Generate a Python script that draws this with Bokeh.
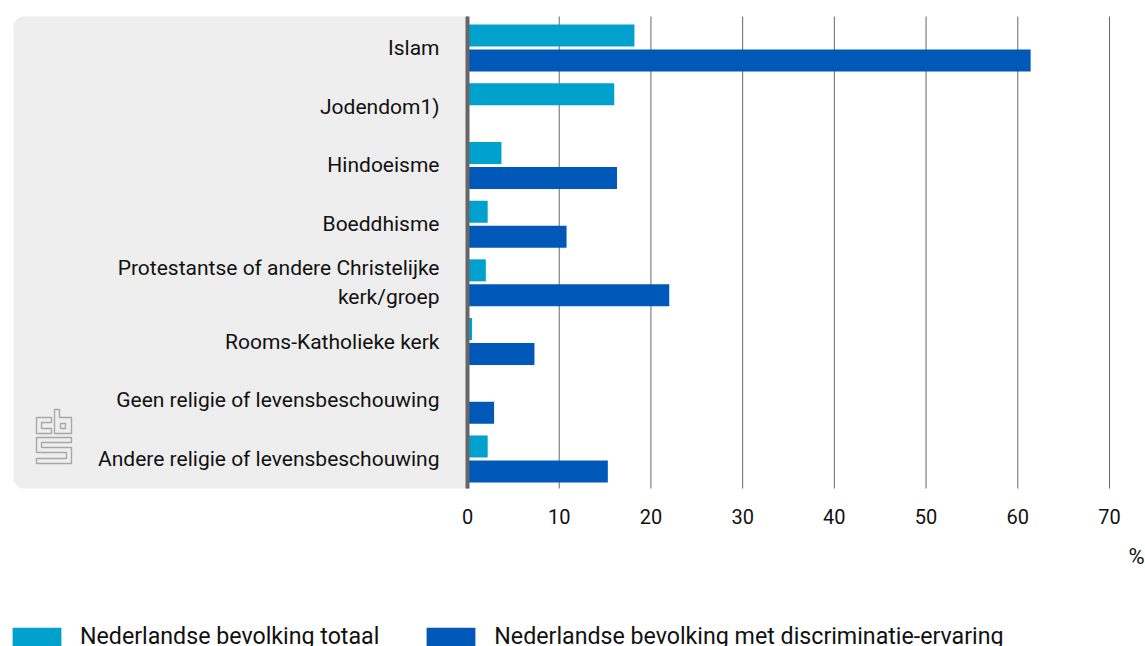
from bokeh.embed import file_html
from bokeh.resources import INLINE
from bokeh.plotting import figure
from bokeh.models import (ColumnDataSource, Range1d, FixedTicker, BoxAnnotation,
                          PolyAnnotation, Label, Legend, LegendItem)

categories = ["Islam", "Jodendom1)", "Hindoeisme", "Boeddhisme",
              "Protestantse of andere Christelijke\nkerk/groep",
              "Rooms-Katholieke kerk", "Geen religie of levensbeschouwing",
              "Andere religie of levensbeschouwing"]
totaal = [18.2, 16.0, 3.7, 2.2, 2.0, 0.5, 0.0, 2.2]
discriminatie = [61.4, None, 16.3, 10.8, 22.0, 7.3, 2.9, 15.3]
x_ticks = [0, 10, 20, 30, 40, 50, 60, 70]
name_totaal = "Nederlandse bevolking totaal"
name_disc = "Nederlandse bevolking met discriminatie-ervaring"

FONT = "Roboto"
TEXT = "#111111"
W, H = 1145, 646
X0, PX_PER_UNIT = 467, 642 / 70
Y0, BAND = 47.5, 58.71
PANEL_TOP, PANEL_BOTTOM = 16, 488

def sy(v):
    return H - v

def band_pos(py):
    return (py - Y0) / BAND

p = figure(width=W, height=H, output_backend="svg", toolbar_location=None,
           x_range=Range1d(-X0 / PX_PER_UNIT, (W - X0) / PX_PER_UNIT),
           y_range=Range1d(band_pos(H), band_pos(0)),
           min_border=0, min_border_left=0, min_border_right=0,
           min_border_top=0, min_border_bottom=0)
p.outline_line_color = None
p.background_fill_color = None
p.border_fill_color = None
p.xgrid.visible = False
p.ygrid.visible = False

panel = BoxAnnotation(left=13, right=X0, top=sy(PANEL_TOP), bottom=sy(PANEL_BOTTOM),
                      left_units="screen", right_units="screen",
                      top_units="screen", bottom_units="screen",
                      fill_color="#eeeeee", fill_alpha=1, line_color=None,
                      level="underlay", border_radius=(10, 0, 0, 10),
                      editable=False)
p.add_layout(panel)

n = len(x_ticks)
p.segment(x0=x_ticks, x1=x_ticks, y0=[band_pos(PANEL_TOP)] * n, y1=[band_pos(PANEL_BOTTOM)] * n,
          line_color="#666666", line_width=1)

pos = list(range(len(categories)))
src = ColumnDataSource(dict(
    y1=[i - 12.5 / BAND for i in pos], y2=[i + 12.5 / BAND for i in pos],
    totaal=totaal, disc=[float("nan") if v is None else v for v in discriminatie]))
r1 = p.hbar(y="y1", right="totaal", left=0, height=22 / BAND, source=src,
            fill_color="#00a1cd", line_color=None)
r2 = p.hbar(y="y2", right="disc", left=0, height=22 / BAND, source=src,
            fill_color="#0058b8", line_color=None)

xa = p.xaxis[0]
xa.fixed_location = band_pos(PANEL_BOTTOM)
xa.ticker = FixedTicker(ticks=x_ticks)
xa.axis_line_color = None
xa.major_tick_line_color = None
xa.minor_tick_line_color = None
xa.major_label_text_font = FONT
xa.major_label_text_font_size = "20px"
xa.major_label_text_color = TEXT
xa.major_label_standoff = 14

ya = p.yaxis[0]
ya.fixed_location = 0
ya.bounds = (band_pos(PANEL_TOP), band_pos(PANEL_BOTTOM))
ya.ticker = FixedTicker(ticks=pos)
ya.major_label_overrides = {i: c for i, c in enumerate(categories)}
ya.axis_line_color = "#666666"
ya.axis_line_width = 4
ya.major_tick_line_color = None
ya.minor_tick_line_color = None
ya.major_label_text_font = FONT
ya.major_label_text_font_size = "21px"
ya.major_label_text_color = TEXT
ya.major_label_standoff = 22

logo_paths = [
    [(51, 417), (36, 417), (36, 433), (51, 433), (51, 428), (41, 428), (41, 422), (51, 422)],
    [(54, 409), (59, 409), (59, 417), (71, 417), (71, 433), (54, 433)],
    [(60, 423), (65, 423), (65, 428), (60, 428)],
    [(36, 437), (71, 437), (71, 442), (41, 442), (41, 447), (71, 447), (71, 463),
     (36, 463), (36, 458), (66, 458), (66, 452), (36, 452)],
]
for path in logo_paths:
    p.add_layout(PolyAnnotation(xs=[a for a, _ in path], ys=[sy(b) for _, b in path],
                                xs_units="screen", ys_units="screen",
                                fill_alpha=0, line_color="#a8a8a8", line_alpha=1, line_width=1.4,
                                level="overlay"))

p.add_layout(Label(x=1136, y=sy(556), x_units="screen", y_units="screen",
                   text="%", text_font=FONT, text_font_size="22px", text_color=TEXT,
                   text_align="center", text_baseline="middle"))

legend = Legend(items=[LegendItem(label=name_totaal, renderers=[r1]),
                       LegendItem(label=name_disc, renderers=[r2])],
                orientation="horizontal", location=(6, -4),
                glyph_width=61, glyph_height=23, label_standoff=13, spacing=41,
                padding=0, margin=0, border_line_color=None, background_fill_alpha=0,
                label_text_font=FONT, label_text_font_size="23.2px",
                label_text_color=TEXT, label_height=23)
p.add_layout(legend)

open("out.html", "w").write(file_html(p, INLINE))
